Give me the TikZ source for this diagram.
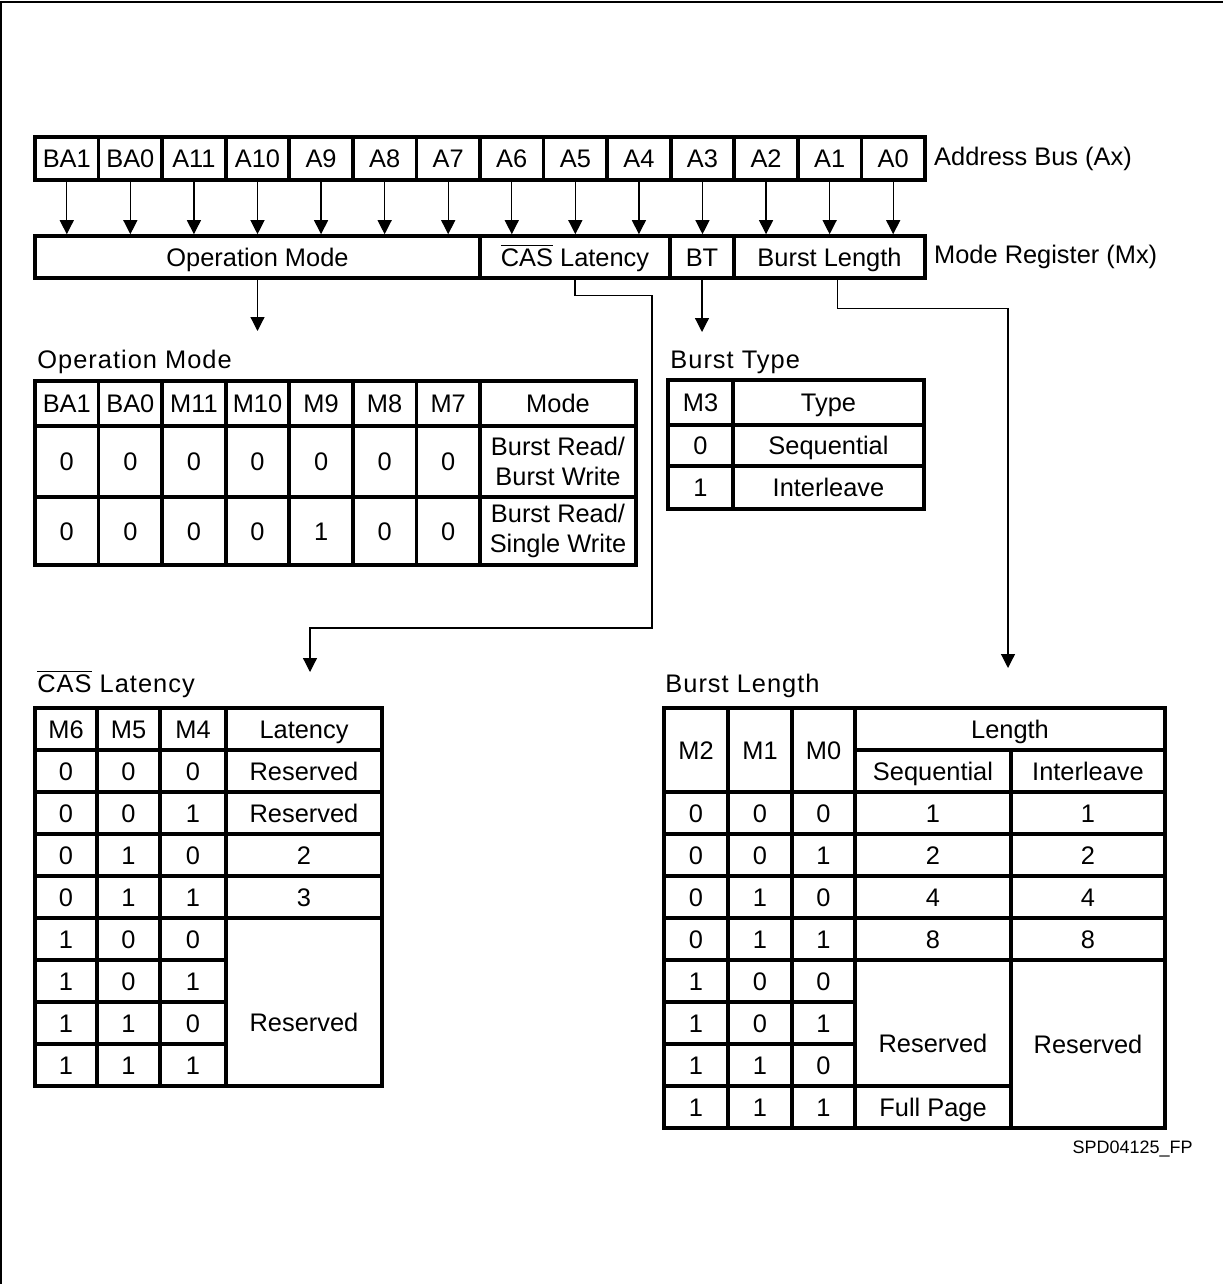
\documentclass[tikz,border=0pt]{standalone}
\usepackage{fontspec}
\setmainfont{Liberation Sans}
\usetikzlibrary{positioning,arrows.meta,calc}

\tikzset{
  cell/.style={draw, line width=1.8pt, inner sep=0pt, align=center, text height=9.1pt, text depth=0pt, font=\fontsize{12.7}{15}\selectfont},
  twoline/.style={text height={}, text depth={}},
  plain/.style={inner sep=0pt, font=\fontsize{12.7}{15}\selectfont},
  title/.style={anchor=base west, inner sep=0pt, font={\fontsize{12.7}{15}\selectfont\addfontfeature{LetterSpace=4}}},
  link/.style={line width=0.6pt, -{Triangle[width=7pt,length=7pt]}},
}

\begin{document}
\begin{tikzpicture}[x=0.5pt,y=-0.5pt]
        \useasboundingbox (0,0) rectangle (1225,1284);
        \draw[line width=1pt] (1,1284) -- (1,2) -- (1223,2);

        % address bus and mode register
        \foreach \lab [count=\i] in {BA1,BA0,A11,A10,A9,A8,A7,A6,A5,A4,A3,A2,A1,A0}
          \node[cell, minimum width=31.79pt, minimum height=21.5pt] (ax\i) at ({35+63.57*(\i-0.5)},158.5) {\lab};
        \node[plain] (axlab) [right=3.5pt of ax14] {Address Bus (Ax)};

        \node[cell, minimum width=222.5pt, minimum height=21pt] (opm) at (257.5,257) {Operation Mode};
        \node[cell, minimum width=95pt, minimum height=21pt] (casm) at (575,257) {$\overline{\mbox{CAS}}$ Latency};
        \node[cell, minimum width=32pt, minimum height=21pt] (btm) at (702,257) {BT};
        \node[cell, minimum width=95.5pt, minimum height=21pt] (blm) at (829.5,257) {Burst Length};
        \node[plain] (mrlab) [right=3.5pt of blm] {Mode Register (Mx)};

        \foreach \i in {1,...,14}
          \draw[link] (ax\i) -- (ax\i |- opm.north);

        \coordinate (opend) at (257.5,331);
        \coordinate (casend) at (310,672);
        \coordinate (btend) at (702,332);
        \coordinate (blend) at (1008,668);
        \draw[link] (opm.south) -- (opend);
        \draw[link] (casm.south) -- ++(0,16) -| (652,628) -| (casend);
        \draw[link] (btm.south) -- (btend);
        \draw[link] ([xshift=4pt]blm.south) -- ++(0,29) -| (blend);

        % operation mode
        \node[title] (omt) at (37,368) {Operation Mode};
        \foreach \lab [count=\i] in {BA1,BA0,M11,M10,M9,M8,M7}
          \node[cell, minimum width=31.79pt, minimum height=22.5pt] (omh\i) at ({35+63.57*(\i-0.5)},403.5) {\lab};
        \node[cell, minimum width=78pt, minimum height=22.5pt] (omh8) at (558,403.5) {Mode};
        \foreach \v [count=\i] in {0,0,0,0,0,0,0}
          \node[cell, minimum width=31.79pt, minimum height=35.5pt] (oma\i) at ({35+63.57*(\i-0.5)},461.5) {\v};
        \node[cell, twoline, minimum width=78pt, minimum height=35.5pt] (oma8) at (558,461.5) {Burst Read/\\Burst Write};
        \foreach \v [count=\i] in {0,0,0,0,1,0,0}
          \node[cell, minimum width=31.79pt, minimum height=34pt] (omb\i) at ({35+63.57*(\i-0.5)},531) {\v};
        \node[cell, twoline, minimum width=78pt, minimum height=34pt] (omb8) at (558,531) {Burst Read/\\Single Write};

        % burst type
        \node[title] (btt) at (670,368) {Burst Type};
        \node[cell, minimum width=32.5pt, minimum height=22.5pt] (bth1) at (700.5,402.5) {M3};
        \node[cell, minimum width=95.5pt, minimum height=22.5pt] (bth2) at (828.5,402.5) {Type};
        \node[cell, minimum width=32.5pt, minimum height=20.5pt] (bta1) at (700.5,445.5) {0};
        \node[cell, minimum width=95.5pt, minimum height=20.5pt] (bta2) at (828.5,445.5) {Sequential};
        \node[cell, minimum width=32.5pt, minimum height=21.5pt] (btb1) at (700.5,487.5) {1};
        \node[cell, minimum width=95.5pt, minimum height=21.5pt] (btb2) at (828.5,487.5) {Interleave};

        % cas latency
        \node[title] (cast) at (37,692) {$\overline{\mbox{CAS}}$ Latency};
        \foreach \a/\b/\c [count=\r from 0] in {M6/M5/M4,0/0/0,0/0/1,0/1/0,0/1/1,1/0/0,1/0/1,1/1/0,1/1/1} {
          \node[cell, minimum width=31pt, minimum height=21pt] (cas\r a) at (66,{729+42*\r}) {\a};
          \node[cell, minimum width=31.5pt, minimum height=21pt] (cas\r b) at (128.5,{729+42*\r}) {\b};
          \node[cell, minimum width=33pt, minimum height=21pt] (cas\r c) at (193,{729+42*\r}) {\c};
        }
        \foreach \t [count=\r from 0] in {Latency,Reserved,Reserved,2,3}
          \node[cell, minimum width=78pt, minimum height=21pt] (casl\r) at (304,{729+42*\r}) {\t};
        \node[cell, minimum width=78pt, minimum height=84pt] (casres) at (304,1002) {};
        \node[plain] (casrestxt) at ([yshift=-10pt]casres.center) {Reserved};

        % burst length
        \node[title] (blt) at (665,692) {Burst Length};
        \node[cell, minimum width=32pt, minimum height=42pt] (blh1) at (696,750) {M2};
        \node[cell, minimum width=32pt, minimum height=42pt] (blh2) at (760,750) {M1};
        \node[cell, minimum width=31.5pt, minimum height=42pt] (blh3) at (823.5,750) {M0};
        \node[cell, minimum width=155pt, minimum height=21pt] (blh4) at (1010,729) {Length};
        \node[cell, minimum width=78pt, minimum height=21pt] (blh5) at (933,771) {Sequential};
        \node[cell, minimum width=77pt, minimum height=21pt] (blh6) at (1088,771) {Interleave};
        \foreach \a/\b/\c [count=\r] in {0/0/0,0/0/1,0/1/0,0/1/1,1/0/0,1/0/1,1/1/0,1/1/1} {
          \node[cell, minimum width=32pt, minimum height=21pt] (bl\r a) at (696,{771+42*\r}) {\a};
          \node[cell, minimum width=32pt, minimum height=21pt] (bl\r b) at (760,{771+42*\r}) {\b};
          \node[cell, minimum width=31.5pt, minimum height=21pt] (bl\r c) at (823.5,{771+42*\r}) {\c};
        }
        \foreach \s [count=\r] in {1,2,4,8} {
          \node[cell, minimum width=78pt, minimum height=21pt] (bls\r) at (933,{771+42*\r}) {\s};
          \node[cell, minimum width=77pt, minimum height=21pt] (bli\r) at (1088,{771+42*\r}) {\s};
        }
        \node[cell, minimum width=78pt, minimum height=63pt] (blsres) at (933,1023) {};
        \node[plain] (blsrestxt) at ([yshift=-10pt]blsres.center) {Reserved};
        \node[cell, minimum width=78pt, minimum height=21pt] (blfull) at (933,1107) {Full Page};
        \node[cell, minimum width=77pt, minimum height=84pt] (blires) at (1088,1044) {Reserved};

        \node[anchor=base east, inner sep=0pt, font=\fontsize{9}{11}\selectfont] (spd) at (1193,1153) {SPD04125\_FP};
\end{tikzpicture}
\end{document}
